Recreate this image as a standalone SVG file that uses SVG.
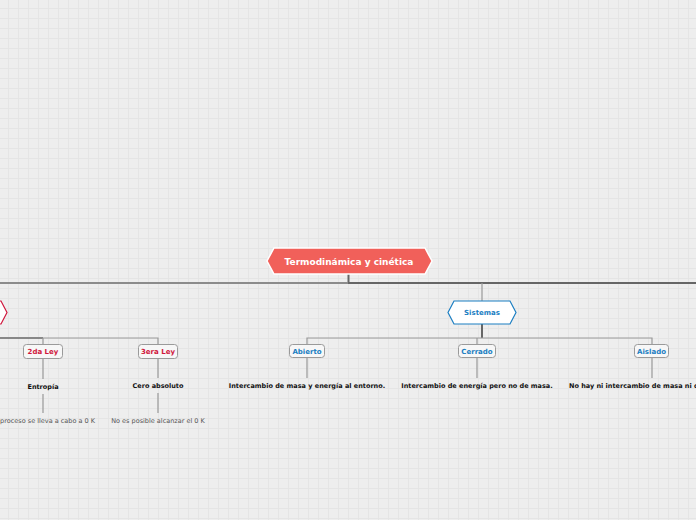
<svg xmlns="http://www.w3.org/2000/svg" width="696" height="520" viewBox="0 0 696 520">
<defs>
<pattern id="grid" width="10" height="10" patternUnits="userSpaceOnUse" x="8" y="8">
<rect width="10" height="10" fill="#eeeeee"/>
<rect width="1" height="10" fill="#e5e5e5"/>
<rect width="10" height="1" fill="#e5e5e5"/>
</pattern>
</defs>
<style>
text{font-family:"DejaVu Sans","Liberation Sans",sans-serif;text-anchor:middle;dominant-baseline:central}
.box{fill:#f7f7f7;stroke:#9a9a9a;stroke-width:1}
.lbl{font-size:7px;font-weight:bold}
.red{fill:#d0163c}
.blue{fill:#1b7ec2}
.desc{font-size:6.5px;font-weight:bold;fill:#111}
.note{font-size:6.5px;fill:#555}
.c{fill:none;stroke:#999;stroke-width:1.2}
.cd{fill:none;stroke:#666;stroke-width:2}
</style>
<rect width="696" height="520" fill="url(#grid)"/>
<g id="connectors">
<path class="cd" d="M348.5 274V283" />
<path d="M0 283H348" fill="none" stroke="#8c8c8c" stroke-width="2"/>
<path class="cd" d="M348 283H696"/>
<path class="c" d="M482 283V301" stroke-width="2"/>
<path class="cd" d="M482 324V338" stroke-width="1.5"/>
<path class="c" d="M307 345V338H652V345"/>
<path class="c" d="M477 338V345"/>
<path d="M0 338H43" fill="none" stroke="#888" stroke-width="1.8"/>
<path class="c" d="M43 338V345M43 338H158V345"/>
<path class="c" d="M43 359V379M43 394V413"/>
<path class="c" d="M158 359V378M158 393V413"/>
<path class="c" d="M307 358V378M477 358V378M652 358V378"/>
</g>
<g id="root">
<polygon points="267,261 274,248 425,248 432,261 425,274 274,274" fill="#f1605a" stroke="#fff" stroke-width="1.5"/>
<text x="349" y="261.5" font-size="9" font-weight="bold" fill="#fff">Termodinámica y cinética</text>
</g>
<g id="leyes">
<polygon points="-60,301 1,301 7,312.5 1,324 -60,324" fill="#fff" stroke="#d0163c" stroke-width="1.2"/>
</g>
<g id="sistemas">
<polygon points="448,312.5 454,301 510,301 516,312.5 510,324 454,324" fill="#fff" stroke="#1b7ec2" stroke-width="1.2"/>
<text class="lbl blue" x="482" y="313">Sistemas</text>
</g>
<g id="ley2">
<rect class="box" x="23.5" y="344.5" width="39" height="14" rx="3"/>
<text class="lbl red" x="43" y="352">2da Ley</text>
</g>
<g id="entropia"><text class="desc" x="43" y="386.5">Entropía</text></g>
<g id="nota2"><text class="note" x="95" y="420.5" style="text-anchor:end">proceso se lleva a cabo a 0 K</text></g>
<g id="ley3">
<rect class="box" x="138.5" y="344.5" width="39" height="14" rx="3"/>
<text class="lbl red" x="158" y="352">3era Ley</text>
</g>
<g id="cero"><text class="desc" x="158" y="385.5">Cero absoluto</text></g>
<g id="nota3"><text class="note" x="158" y="420.5">No es posible alcanzar el 0 K</text></g>
<g id="abierto">
<rect class="box" x="289.5" y="344.5" width="35" height="13" rx="3"/>
<text class="lbl blue" x="307" y="351.5">Abierto</text>
</g>
<g id="abierto-d"><text class="desc" x="307" y="385.5">Intercambio de masa y energía al entorno.</text></g>
<g id="cerrado">
<rect class="box" x="458.5" y="344.5" width="37" height="13" rx="3"/>
<text class="lbl blue" x="477" y="351.5">Cerrado</text>
</g>
<g id="cerrado-d"><text class="desc" x="477" y="385.5">Intercambio de energía pero no de masa.</text></g>
<g id="aislado">
<rect class="box" x="634.5" y="344.5" width="34" height="13" rx="3"/>
<text class="lbl blue" x="651.5" y="351.5">Aislado</text>
</g>
<g id="aislado-d"><text class="desc" x="569" y="385.5" style="text-anchor:start">No hay ni intercambio de masa ni d</text></g>
</svg>
